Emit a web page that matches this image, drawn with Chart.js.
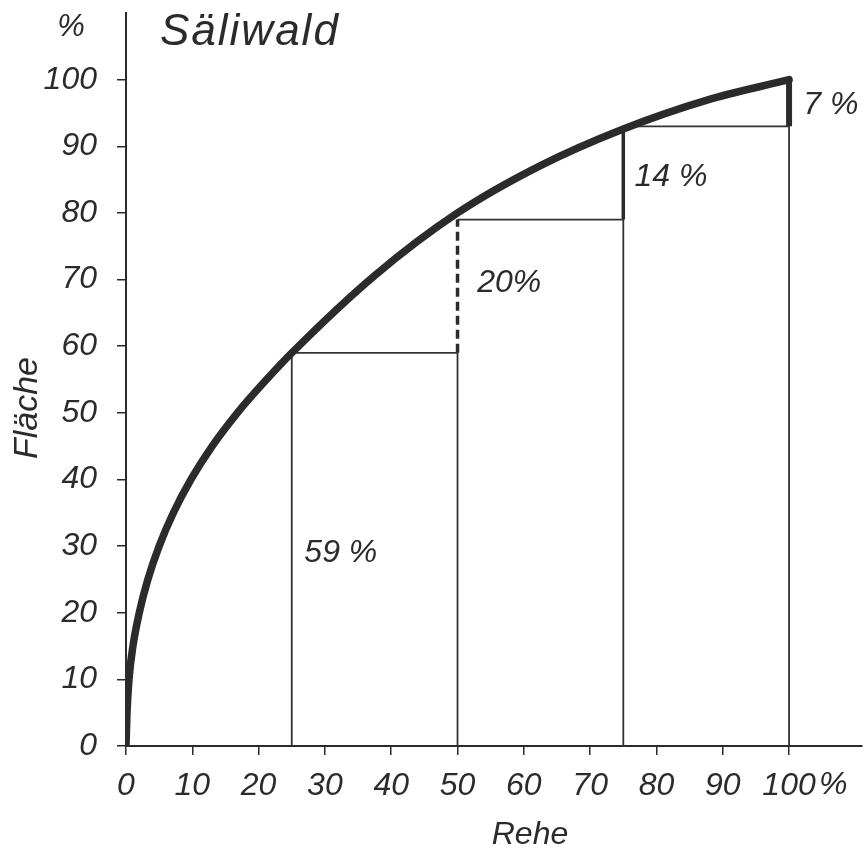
<!DOCTYPE html>
<html>
<head>
<meta charset="utf-8">
<script src="https://cdn.jsdelivr.net/npm/chart.js@4.4.1/dist/chart.umd.min.js"></script>
<style>
  html, body { margin: 0; padding: 0; background: #fff; }
  #wrap { width: 866px; height: 855px; }
</style>
</head>
<body>
<div id="wrap"><canvas id="chart" width="866" height="855"></canvas></div>
<script>
// Kurve: Anteil Rehe (x, %) gegen Anteil Fläche (y, %)
const rehe    = [0, 0.15, 0.45, 1.05, 2.0, 3.3, 5.0, 7.15, 9.8, 13.0, 16.8, 21.2, 25, 37.5, 50, 62.5, 75, 87.5, 100];
const flaeche = [0, 5, 10, 15, 20, 25, 30, 35, 40, 45, 50, 55, 59, 70.6, 80, 87.1, 92.6, 96.9, 100];

// Stufen je Viertel der Rehe
const stufenGrenzen = [25, 50, 75, 100];
const anteile = [59, 20, 14, 7];
const anteilTexte = ['59 %', '20%', '14 %', '7 %'];

const xTicks = [0, 10, 20, 30, 40, 50, 60, 70, 80, 90, 100];
const yTicks = [0, 10, 20, 30, 40, 50, 60, 70, 80, 90, 100];

const INK = '#2b2b2b';
const FONT = "'Liberation Sans', Arimo, Arial, sans-serif";

// kumulierte Fläche an jeder Stufe
const summe = [];
anteile.reduce((acc, a, i) => (summe[i] = acc + a), 0);

// dünne Rahmenlinien (senkrecht bis zur vorigen Stufe, waagrecht auf Stufenhöhe)
const duenn = [];
for (let i = 0; i < stufenGrenzen.length - 1; i++) {
    if (i === 0) {
        duenn.push({ x: stufenGrenzen[0], y: 0 });
    }
    duenn.push({ x: stufenGrenzen[i], y: summe[i] });
    duenn.push({ x: stufenGrenzen[i + 1], y: summe[i] });
    duenn.push({ x: stufenGrenzen[i + 1], y: 0 });
    duenn.push({ x: stufenGrenzen[i + 1], y: null });
}

// Zuwachs-Striche an den Grenzen 50, 75, 100
const zuwachs = [1, 2, 3].map(i => [
    { x: stufenGrenzen[i], y: summe[i - 1] },
    { x: stufenGrenzen[i], y: summe[i] }
]);

const textPlugin = {
    id: 'texte',
    afterDraw(chart) {
        const ctx = chart.ctx;
        const xs = chart.scales.x;
        const ys = chart.scales.y;
        ctx.save();
        ctx.fillStyle = INK;

        // Titel
        ctx.font = "italic 44px " + FONT;
        ctx.letterSpacing = '2px';
        ctx.textAlign = 'left';
        ctx.textBaseline = 'alphabetic';
        ctx.fillText('Säliwald', 160, 45);
        ctx.letterSpacing = '0px';

        // Einheit über der y-Achse
        ctx.font = "italic 31px " + FONT;
        ctx.textAlign = 'center';
        ctx.fillText('%', 71, 36);

        // Prozent hinter 100 der x-Achse
        ctx.font = "italic 32px " + FONT;
        ctx.textAlign = 'left';
        ctx.textBaseline = 'middle';
        ctx.fillText('%', xs.getPixelForValue(100) + 30, chart.chartArea.bottom + 39);

        // Achsentitel
        ctx.font = "italic 32px " + FONT;
        ctx.textAlign = 'center';
        ctx.fillText('Rehe', 530, 835);
        ctx.save();
        ctx.translate(28, 408);
        ctx.rotate(-Math.PI / 2);
        ctx.font = "italic 34px " + FONT;
        ctx.fillText('Fläche', 0, 0);
        ctx.restore();

        // Anteile in den Feldern
        const anker = [[32.4, 29], [57.8, 69.5], [82.2, 85.4], [106.3, 96.2]];
        ctx.font = "italic 32px " + FONT;
        anteilTexte.forEach((t, i) => {
            ctx.fillText(t, xs.getPixelForValue(anker[i][0]), ys.getPixelForValue(anker[i][1]));
        });
        ctx.restore();
    }
};

const achse = {
    type: 'linear',
    min: 0,
    grid: {
        display: true,
        drawOnChartArea: false,
        drawTicks: true,
        tickLength: 9,
        color: INK,
        lineWidth: 1.5
    },
    border: { display: true, color: INK, width: 2 },
    ticks: {
        color: INK,
        font: { family: FONT, size: 32, style: 'italic' }
    }
};

// Achsen ohne zusätzlichen Rand für überstehende Beschriftungen
function ohneRand(scale) {
    scale.paddingTop = 0;
    scale.paddingBottom = 0;
    scale.paddingLeft = 0;
    scale.paddingRight = 0;
}

new Chart(document.getElementById('chart'), {
    type: 'line',
    data: {
        datasets: [
            {
                label: 'Kurve',
                data: rehe.map((x, i) => ({ x: x, y: flaeche[i] })),
                borderColor: INK,
                borderWidth: 7.5,
                cubicInterpolationMode: 'monotone',
                pointRadius: 0,
                borderCapStyle: 'round',
                fill: false
            },
            {
                label: 'Rahmen',
                data: duenn,
                borderColor: '#333',
                borderWidth: 1.8,
                pointRadius: 0,
                spanGaps: false,
                tension: 0
            },
            {
                label: 'Zuwachs 20',
                data: zuwachs[0],
                borderColor: INK,
                borderWidth: 3.5,
                borderDash: [9, 5],
                pointRadius: 0
            },
            {
                label: 'Zuwachs 14',
                data: zuwachs[1],
                borderColor: INK,
                borderWidth: 3.5,
                pointRadius: 0
            },
            {
                label: 'Zuwachs 7',
                data: zuwachs[2],
                borderColor: INK,
                borderWidth: 6,
                pointRadius: 0
            }
        ]
    },
    options: {
        responsive: false,
        animation: false,
        layout: { padding: { top: 13, right: 4, left: 0, bottom: 0 } },
        plugins: {
            legend: { display: false },
            tooltip: { enabled: false }
        },
        scales: {
            x: {
                ...achse,
                max: 111,
                afterBuildTicks: scale => { scale.ticks = xTicks.map(v => ({ value: v })); },
                afterFit: scale => { scale.height = 109; ohneRand(scale); },
                ticks: { ...achse.ticks, padding: 12, maxRotation: 0, autoSkip: false }
            },
            y: {
                ...achse,
                max: 110,
                afterBuildTicks: scale => { scale.ticks = yTicks.map(v => ({ value: v })); },
                afterFit: scale => { scale.width = 126; ohneRand(scale); },
                ticks: { ...achse.ticks, padding: 20, autoSkip: false }
            }
        }
    },
    plugins: [textPlugin]
});
</script>
</body>
</html>
